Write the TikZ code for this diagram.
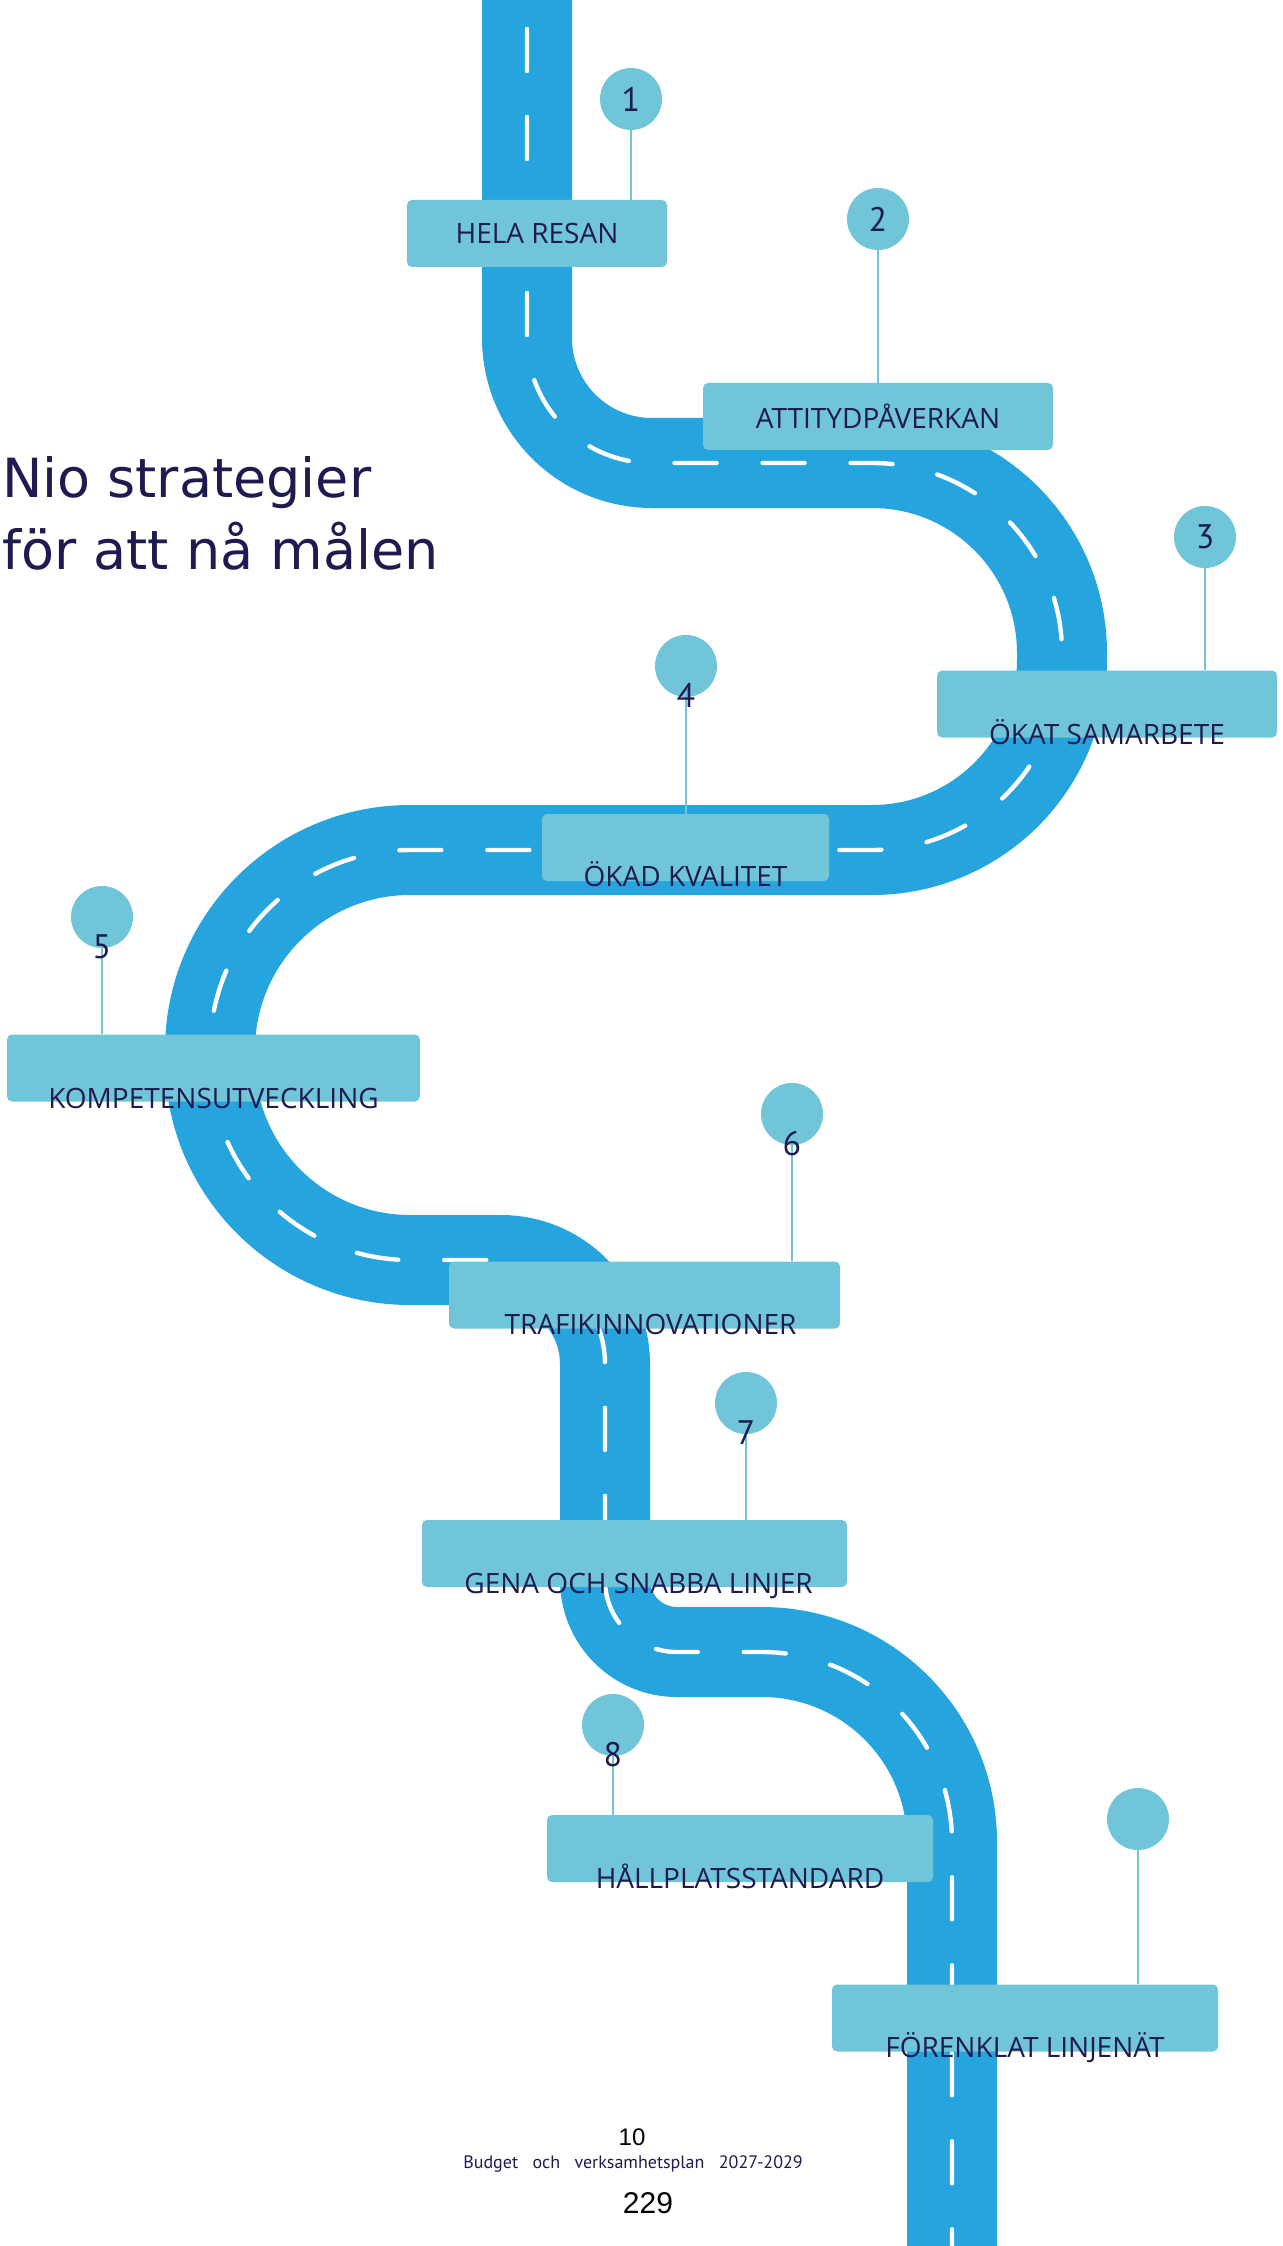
\documentclass[tikz,border=0pt]{standalone}
\usepackage{fontspec}
\setmainfont{PT Sans}
\newfontfamily\signfont{Open Sans}
\newfontfamily\titlefont{DejaVu Sans}
\newfontfamily\pagenumfont{Liberation Sans}
\usepackage{tikz}
\usetikzlibrary{positioning,calc}
\definecolor{roadblue}{RGB}{37,164,222}
\definecolor{signteal}{RGB}{113,197,216}
\definecolor{inknavy}{RGB}{31,27,80}

\begin{document}
\begin{tikzpicture}[x=0.5pt,y=-0.5pt,
    road/.style={draw=roadblue, line width=45pt},
    lane/.style={draw=white, line width=2.2pt, line cap=round,
                 dash pattern=on 21pt off 23pt, dash phase=19.5pt},
    sign/.style={rectangle, fill=signteal, rounded corners=2.5pt, inner sep=0pt,
                 minimum height=33.5pt, text=inknavy, font=\signfont\fontsize{14}{16}\selectfont},
    signtext/.style={anchor=base, text=inknavy, font=\signfont\fontsize{14}{16}\selectfont},
    pin/.style={circle, fill=signteal, minimum size=31pt, inner sep=0pt},
    pinnum/.style={text=inknavy, font=\fontsize{17}{19}\selectfont},
    stem/.style={draw=signteal, line width=1.2pt},
    headline/.style={anchor=base west, text=inknavy, font=\titlefont\fontsize{27}{34}\selectfont}
]
    \clip (0,0) rectangle (1283,2246);

    % the road
    \draw[road, postaction={lane}]
        (527,-20) [rounded corners=62.5pt] -- (527,463)
        [rounded corners=95pt] -- (1062,463) -- (1062,850)
        [rounded corners=100pt] -- (210,850) -- (210,1260)
        [rounded corners=52pt] -- (605,1260)
        [rounded corners=36pt] -- (605,1652)
        [rounded corners=95pt] -- (952,1652) -- (952,2270);

    % title
    \node[headline] (title1) at (-5,497) {Nio strategier};
    \node[headline] (title2) at (-5,569) {för att nå målen};

    % signs
    \node[sign, minimum width=130pt] (b1) at (537,233.5) {HELA RESAN};
    \node[sign, minimum width=175pt] (b2) at (878,416.5) {ATTITYDPÅVERKAN};
    \node[sign, minimum width=170pt] (b3) at (1107,704) {};
    \node[sign, minimum width=143.5pt] (b4) at (685.5,847.5) {};
    \node[sign, minimum width=206.5pt] (b5) at (213.5,1068) {};
    \node[sign, minimum width=195.5pt] (b6) at (644.5,1295) {};
    \node[sign, minimum width=212.5pt] (b7) at (634.5,1553.5) {};
    \node[sign, minimum width=193pt] (b8) at (740,1848.5) {};
    \node[sign, minimum width=193pt] (b9) at (1025,2018) {};

    \node[signtext] (t3) at ([yshift=-3.5pt]b3.south) {ÖKAT SAMARBETE};
    \node[signtext] (t4) at ([yshift=-2.5pt]b4.south) {ÖKAD KVALITET};
    \node[signtext] (t5) at ([yshift=-3.5pt]b5.south) {KOMPETENSUTVECKLING};
    \node[signtext] (t6) at ([xshift=3pt,yshift=-3pt]b6.south) {TRAFIKINNOVATIONER};
    \node[signtext] (t7) at ([xshift=2pt,yshift=-3pt]b7.south) {GENA OCH SNABBA LINJER};
    \node[signtext] (t8) at ([yshift=-3pt]b8.south) {HÅLLPLATSSTANDARD};
    \node[signtext] (t9) at ([yshift=-3pt]b9.south) {FÖRENKLAT LINJENÄT};

    % pins
    \node[pin] (p1) at (631,99) {};
    \node[pin] (p2) at (878,219) {};
    \node[pin] (p3) at (1205,537) {};
    \node[pin] (p4) at (686,666) {};
    \node[pin] (p5) at (102,917) {};
    \node[pin] (p6) at (792,1114) {};
    \node[pin] (p7) at (746,1403) {};
    \node[pin] (p8) at (613,1725) {};
    \node[pin] (p9) at (1138,1819) {};

    \draw[stem] (p1.south) -- (p1.south |- b1.north);
    \draw[stem] (p2.south) -- (p2.south |- b2.north);
    \draw[stem] (p3.south) -- (p3.south |- b3.north);
    \draw[stem] (p4.south) -- (p4.south |- b4.north);
    \draw[stem] (p5.south) -- (p5.south |- b5.north);
    \draw[stem] (p6.south) -- (p6.south |- b6.north);
    \draw[stem] (p7.south) -- (p7.south |- b7.north);
    \draw[stem] (p8.south) -- (p8.south |- b8.north);
    \draw[stem] (p9.south) -- (p9.south |- b9.north);

    \node[pinnum] (n1) at (p1) {1};
    \node[pinnum] (n2) at (p2) {2};
    \node[pinnum] (n3) at (p3) {3};
    \node[pinnum, anchor=base] (n4) at ([yshift=-5pt]p4.south) {4};
    \node[pinnum, anchor=base] (n5) at ([yshift=-5pt]p5.south) {5};
    \node[pinnum, anchor=base] (n6) at ([yshift=-5pt]p6.south) {6};
    \node[pinnum, anchor=base] (n7) at ([yshift=-5pt]p7.south) {7};
    \node[pinnum, anchor=base] (n8) at ([yshift=-5pt]p8.south) {8};

    % footer
    \node[font=\pagenumfont\fontsize{12}{14}\selectfont] (pg) at (632,2137) {10};
    \node[text=inknavy, font=\fontsize{9}{10}\selectfont] (doc) at (633,2164) {Budget\ \ \ och\ \ \ verksamhetsplan\ \ \ 2027-2029};
    \node[font=\pagenumfont\fontsize{15}{17}\selectfont] (pgtot) at (648,2203) {229};
\end{tikzpicture}
\end{document}
